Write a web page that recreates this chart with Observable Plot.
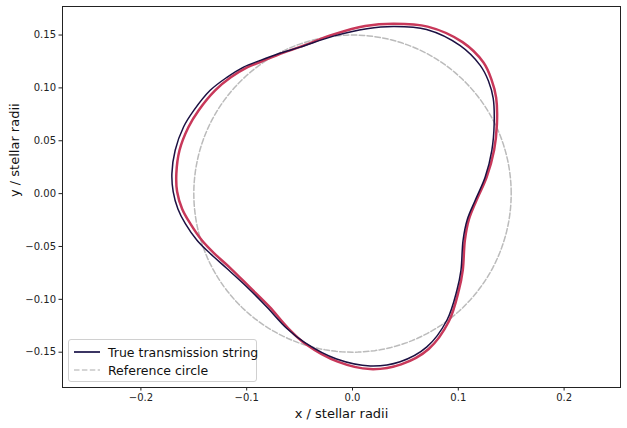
<!DOCTYPE html>
<html>
<head>
<meta charset="utf-8">
<script src="https://cdn.jsdelivr.net/npm/d3@7"></script>
<script src="https://cdn.jsdelivr.net/npm/@observablehq/plot@0.6"></script>
<style>
  html, body { margin: 0; padding: 0; background: #fff; }
  #wrap { position: relative; width: 627px; height: 428px; font-family: "DejaVu Sans", sans-serif; }
  #legend { position: absolute; left: 68px; top: 339px; width: 189px; height: 43px; border: 1px solid #d0d0d0; border-radius: 3px; background: rgba(255,255,255,0.8); box-sizing: border-box; font-size: 12.5px; color: #111; white-space: nowrap; }
  .row { position: absolute; left: 5px; height: 16px; display: flex; align-items: center; white-space: nowrap; }
  .row svg { margin-right: 8px; flex: none; }
</style>
</head>
<body>
<div id="wrap"></div>
<script>
// True transmission string (x, y) in stellar radii
const trueX = [0.1339, 0.1330, 0.1285, 0.1207, 0.1018, 0.070, 0.0388, 0.0136, -0.018, -0.0494, -0.070, -0.0872, -0.103, -0.1187, -0.1345, -0.150, -0.1597, -0.1676, -0.1707, -0.1695, -0.1650, -0.158, -0.147, -0.1345, -0.1187, -0.0998, -0.081, -0.062, -0.045, -0.015, 0.0167, 0.045, 0.0703, 0.0892, 0.0987, 0.1025, 0.1045, 0.1085, 0.116, 0.1254, 0.1317];
const trueY = [0.066, 0.0900, 0.1065, 0.1213, 0.140, 0.1553, 0.1581, 0.156, 0.149, 0.1386, 0.1323, 0.126, 0.1197, 0.110, 0.0977, 0.0787, 0.063, 0.041, 0.0189, 0.0020, -0.0145, -0.0284, -0.0441, -0.0567, -0.0709, -0.0883, -0.1072, -0.1276, -0.141, -0.1565, -0.163, -0.159, -0.145, -0.1198, -0.0914, -0.0725, -0.0441, -0.0245, -0.0063, 0.0157, 0.041];
// Fitted string (red)
const fitX = [0.1365, 0.1358, 0.1313, 0.1238, 0.104, 0.071, 0.0388, 0.012, -0.018, -0.049, -0.070, -0.0872, -0.0992, -0.115, -0.1298, -0.1455, -0.155, -0.1635, -0.1665, -0.1658, -0.1610, -0.1533, -0.1424, -0.1305, -0.115, -0.0974, -0.0784, -0.0605, -0.044, -0.014, 0.0167, 0.046, 0.072, 0.091, 0.1005, 0.1042, 0.1062, 0.1100, 0.1172, 0.1268, 0.1338];
const fitY = [0.066, 0.0905, 0.1080, 0.124, 0.1433, 0.158, 0.1607, 0.1585, 0.1505, 0.139, 0.1315, 0.1245, 0.1197, 0.110, 0.0977, 0.0787, 0.063, 0.041, 0.0189, 0.0020, -0.0145, -0.0284, -0.0441, -0.0567, -0.0709, -0.0883, -0.1072, -0.1276, -0.1425, -0.159, -0.166, -0.1615, -0.147, -0.121, -0.0914, -0.0725, -0.0441, -0.0245, -0.0063, 0.0157, 0.041];
// Reference circle
const refRadius = 0.15;
const xTicks = [-0.2, -0.1, 0.0, 0.1, 0.2];
const yTicks = [-0.15, -0.10, -0.05, 0.00, 0.05, 0.10, 0.15];
const xLabel = "x / stellar radii";
const yLabel = "y / stellar radii";
const legendLabels = ["True transmission string", "Reference circle"];

const trueData = trueX.map((x, i) => ({x, y: trueY[i]}));
const fitData = fitX.map((x, i) => ({x, y: fitY[i]}));
const circle = d3.range(0, 361, 2).map(a => ({x: refRadius * Math.cos(a * Math.PI / 180), y: refRadius * Math.sin(a * Math.PI / 180)}));

const chart = Plot.plot({
  width: 627,
  height: 428,
  marginLeft: 62,
  marginRight: 7,
  marginTop: 6,
  marginBottom: 41,
  style: {fontFamily: "DejaVu Sans, sans-serif", fontSize: "10px", color: "#222", background: "#fff"},
  x: {domain: [-0.2741, 0.2533], ticks: xTicks, tickFormat: d3.format(".1f"), label: null, tickSize: 3.5, tickPadding: 3},
  y: {domain: [-0.1834, 0.177], ticks: yTicks, tickFormat: d3.format(".2f"), label: null, tickSize: 3.5, tickPadding: 3},
  marks: [
    Plot.line(circle, {x: "x", y: "y", stroke: "#bbbbbb", strokeWidth: 1.5, strokeDasharray: "5.5,2.4"}),
    Plot.line(fitData, {x: "x", y: "y", curve: "catmull-rom-closed", stroke: "#c8385a", strokeWidth: 2.5}),
    Plot.line(trueData, {x: "x", y: "y", curve: "catmull-rom-closed", stroke: "#1b1042", strokeWidth: 1.5}),
    Plot.frame({stroke: "#222", strokeWidth: 1}),
    Plot.text([xLabel], {frameAnchor: "bottom", dy: 30, text: d => d, fontSize: 13, fill: "#111"}),
    Plot.text([yLabel], {frameAnchor: "left", dx: -48, rotate: -90, text: d => d, fontSize: 13, fill: "#111"})
  ]
});
const wrap = document.getElementById("wrap");
wrap.appendChild(chart);

const legend = document.createElement("div");
legend.id = "legend";
legend.innerHTML = `
  <div class="row" style="top:4px"><svg width="26" height="4"><line x1="0" y1="2" x2="26" y2="2" stroke="#3b3563" stroke-width="2"/></svg>${legendLabels[0]}</div>
  <div class="row" style="top:22px"><svg width="26" height="4"><line x1="0" y1="2" x2="26" y2="2" stroke="#c8c8c8" stroke-width="1.5" stroke-dasharray="5.5,2.4"/></svg>${legendLabels[1]}</div>`;
wrap.appendChild(legend);
</script>
</body>
</html>
